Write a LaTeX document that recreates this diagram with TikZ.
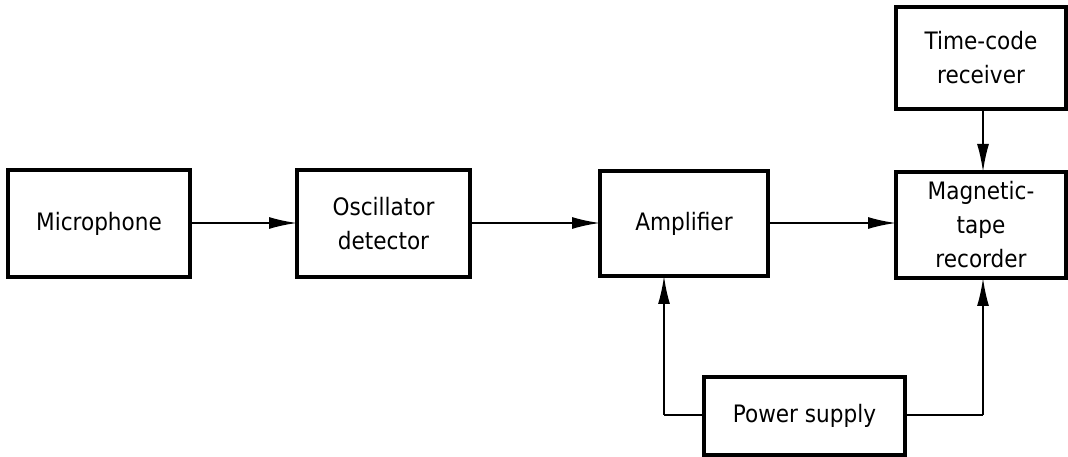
\documentclass[tikz,border=0pt]{standalone}
\usepackage{fontspec}
\setmainfont{DejaVu Sans Condensed}
\usetikzlibrary{arrows.meta}
\begin{document}
\begin{tikzpicture}[x=1pt,y=1pt,
  blk/.style={draw,line width=3.6pt,inner sep=0pt,outer sep=0pt,align=center,font=\fontsize{24}{34}\selectfont},
  conn/.style={line width=2pt,-{Latex[length=28pt,width=12pt]}},
  wire/.style={line width=2pt}]
\useasboundingbox (0,0) rectangle (1068,457);
% boxes (y = 457 - image y)
\node[blk,minimum width=182pt,minimum height=107pt] (mic) at (99,233.5) {Microphone};
\node[blk,minimum width=173pt,minimum height=107pt] (osc) at (383.5,233.5) {Oscillator\\detector};
\node[blk,minimum width=168pt,minimum height=105pt] (amp) at (684,233.5) {Amplifier};
\node[blk,minimum width=170pt,minimum height=106pt] (mag) at (981,232) {Magnetic-\\tape\\recorder};
\node[blk,minimum width=170pt,minimum height=102pt] (tcr) at (981,399) {Time-code\\receiver};
\node[blk,minimum width=201pt,minimum height=78pt] (pwr) at (804.5,41) {Power supply};
% connectors
\draw[conn] (mic.east |- 0,234) -- (osc.west |- 0,234);
\draw[conn] (osc.east |- 0,234) -- (amp.west |- 0,234);
\draw[conn] (amp.east |- 0,234) -- (mag.west |- 0,234);
\draw[conn] (tcr.south -| 983,0) -- (mag.north -| 983,0);
\coordinate (pl) at (664,42);
\coordinate (pr) at (983,42);
\draw[wire] (pwr.west |- pl) -- (pl);
\draw[conn] (pl) -- (amp.south -| pl);
\draw[wire] (pwr.east |- pr) -- (pr);
\draw[conn] (pr) -- (mag.south -| pr);
\end{tikzpicture}
\end{document}
